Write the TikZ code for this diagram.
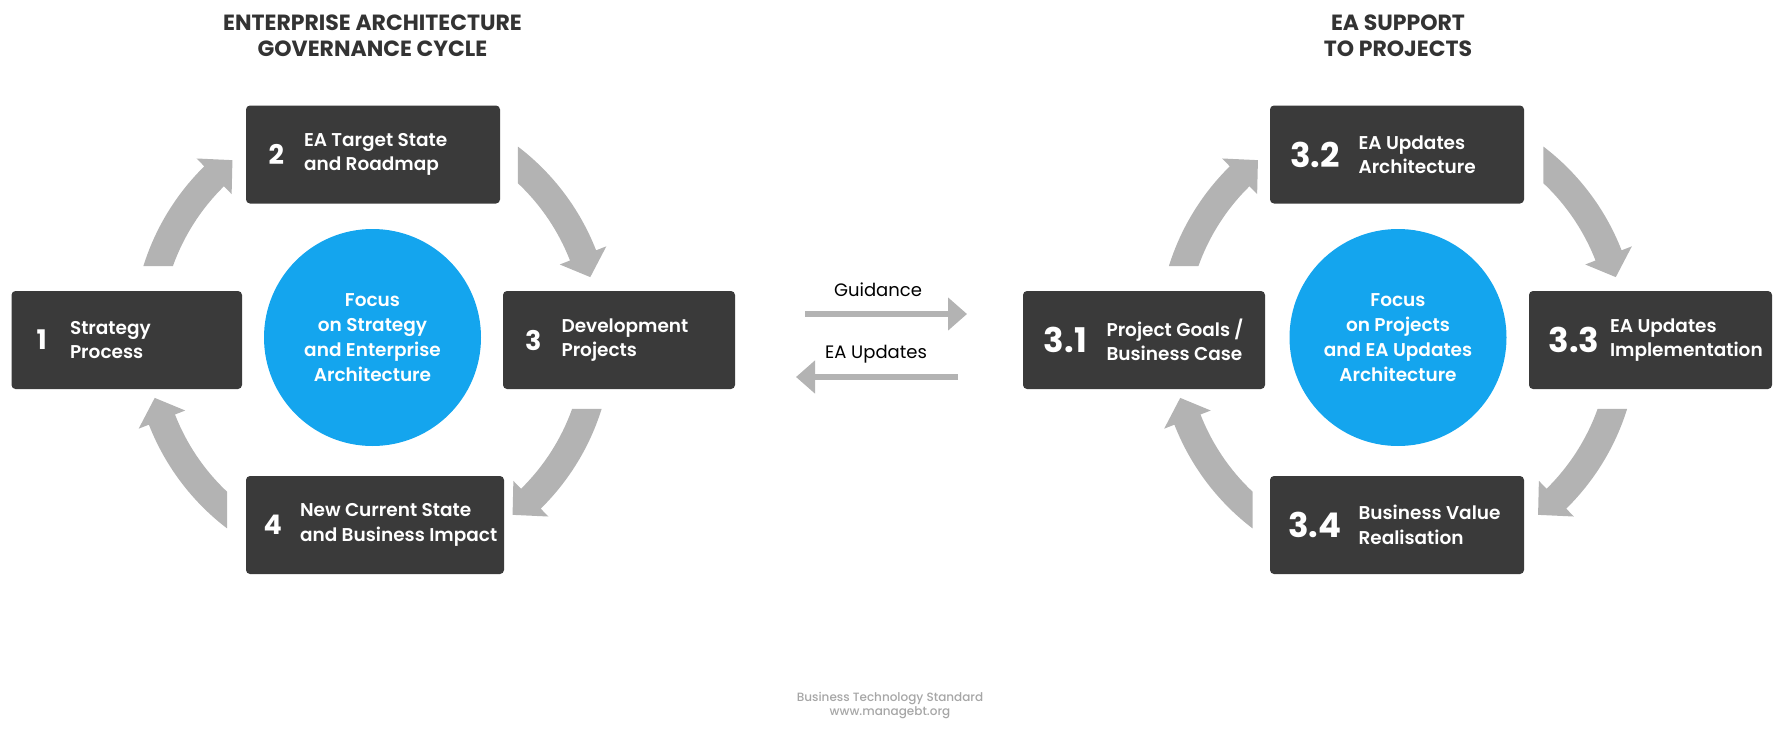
\documentclass[tikz,border=0pt]{standalone}
\usepackage{fontspec}
\setmainfont{Poppins}
\newfontfamily\medfont{Poppins Medium}
\newfontfamily\semifont{Poppins SemiBold}
\usetikzlibrary{calc,arrows.meta}
\definecolor{boxgray}{HTML}{3A3A3A}
\definecolor{arrowgray}{HTML}{B3B3B3}
\definecolor{focusblue}{HTML}{14A5EE}
\definecolor{titlegray}{HTML}{333333}
\definecolor{footgray}{HTML}{A6A6A6}

\begin{document}
\begin{tikzpicture}[x=1pt,y=1pt,
    stepbox/.style={fill=boxgray,rounded corners=4pt,minimum height=98pt,inner sep=0},
    stepnum/.style={text=white,inner sep=0,font=\bfseries\fontsize{27}{27}\selectfont},
    subnum/.style={text=white,inner sep=0,font=\bfseries\fontsize{34}{34}\selectfont},
    steptext/.style={text=white,anchor=west,align=left,inner sep=0,font=\semifont\fontsize{18.5}{24.5}\selectfont},
    focus/.style={circle,fill=focusblue,minimum size=217pt,inner sep=0,text=white,align=center,font=\semifont\fontsize{18.5}{25}\selectfont},
    heading/.style={text=titlegray,align=center,font=\bfseries\fontsize{22}{26}\selectfont},
    cyclearrow/.style={fill=arrowgray},
    flowarrow/.style={draw=arrowgray,line width=6.5pt,-{Triangle[length=19pt,width=32pt]}},
    flowlabel/.style={text=black,font=\fontsize{18}{18}\selectfont}]
  \useasboundingbox (0,0) rectangle (1783,-736);

  \node[heading] (hl) at (372.5,-36) {ENTERPRISE ARCHITECTURE\\GOVERNANCE CYCLE};
  \node[heading] (hr) at (1398,-36) {EA SUPPORT\\TO PROJECTS};

  % governance cycle
  \node[focus] (fl) at (372.5,-337.5) {Focus\\on Strategy\\and Enterprise\\Architecture};
  \node[stepbox,minimum width=230.5pt] (b1) at (126.75,-340) {};
  \node[stepbox,minimum width=254pt] (b2) at (373,-154.5) {};
  \node[stepbox,minimum width=232pt] (b3) at (619,-340) {};
  \node[stepbox,minimum width=258pt] (b4) at (375,-525) {};
  \node[stepnum] at ([xshift=30.5]b1.west) {1};
  \node[stepnum] at ([xshift=30.5]b2.west) {2};
  \node[stepnum] at ([xshift=30.5]b3.west) {3};
  \node[stepnum] at ([xshift=27]b4.west) {4};
  \node[steptext] at ([xshift=58.5]b1.west) {Strategy\\Process};
  \node[steptext] at ([xshift=58]b2.west) {EA Target State\\and Roadmap};
  \node[steptext] at ([xshift=58.5]b3.west) {Development\\Projects};
  \node[steptext] at ([xshift=54]b4.west) {New Current State\\and Business Impact};

  % project cycle
  \node[focus] (fr) at (1398,-337.5) {Focus\\on Projects\\and EA Updates\\Architecture};
  \node[stepbox,minimum width=242pt] (c1) at (1144,-340) {};
  \node[stepbox,minimum width=254pt] (c2) at (1397,-154.5) {};
  \node[stepbox,minimum width=243pt] (c3) at (1650.5,-340) {};
  \node[stepbox,minimum width=254pt] (c4) at (1397,-525) {};
  \node[subnum] at ([xshift=42.5]c1.west) {3.1};
  \node[subnum] at ([xshift=45]c2.west) {3.2};
  \node[subnum] at ([xshift=45]c3.west) {3.3};
  \node[subnum] at ([xshift=45]c4.west) {3.4};
  \node[steptext] at ([xshift=83.5]c1.west) {Project Goals /\\Business Case};
  \node[steptext] at ([xshift=88.5]c2.west) {EA Updates\\Architecture};
  \node[steptext] at ([xshift=81]c3.west) {EA Updates\\Implementation};
  \node[steptext] at ([xshift=88.5]c4.west) {Business Value\\Realisation};

  \foreach \c in {fl,fr}
    \foreach \a/\b/\h/\t in {162.7/160.3/134.5/128.3,52.7/46.7/21.3/15.5,-17.3/-19.7/-45.5/-51.7,-127.3/-133.3/-158.7/-164.5}
      \fill[cyclearrow] ($(\c)+(\a:240pt)$) arc[start angle=\a,end angle=\h,radius=240pt]
        -- ($(\c)+(\h:251pt)$) -- ($(\c)+(\t:226pt)$) -- ($(\c)+(\h:201pt)$)
        -- ($(\c)+(\h:212pt)$) arc[start angle=\h,end angle=\b,radius=212pt] -- cycle;

  % between the cycles
  \coordinate (g1) at (805,-314);
  \coordinate (g2) at (967,-314);
  \coordinate (u1) at (958,-377);
  \coordinate (u2) at (796,-377);
  \draw[flowarrow] (g1) -- (g2);
  \draw[flowarrow] (u1) -- (u2);
  \node[flowlabel] (gl) at (878,-290) {Guidance};
  \node[flowlabel] (ul) at (876,-354) {EA Updates};

  \node[text=footgray,align=center,font=\medfont\fontsize{12}{14}\selectfont] (foot) at (890,-706)
    {Business Technology Standard\\www.managebt.org};
\end{tikzpicture}
\end{document}
